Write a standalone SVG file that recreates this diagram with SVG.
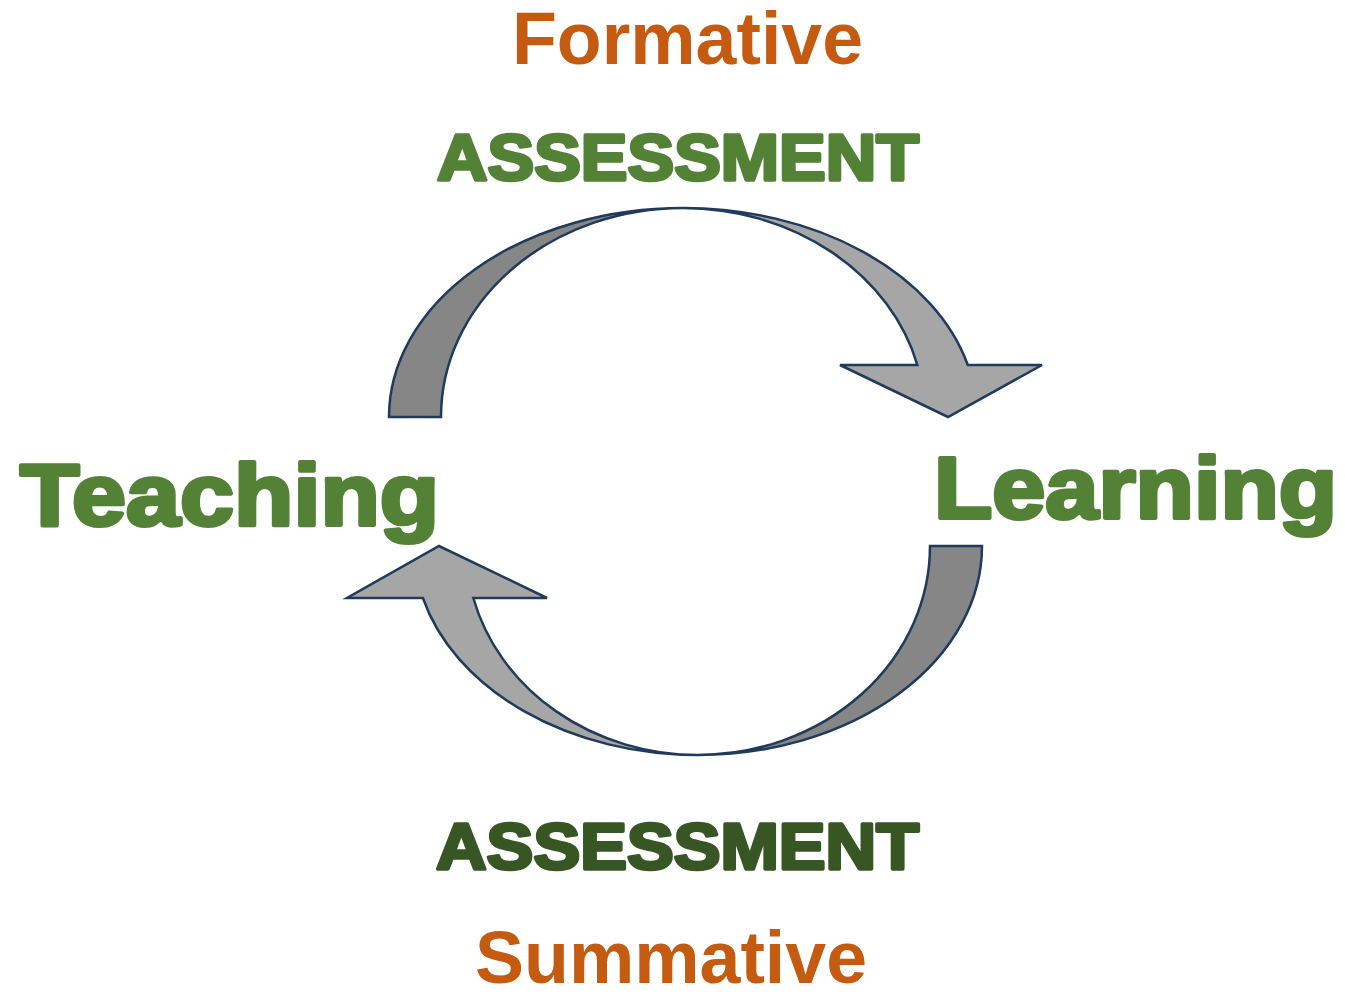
<svg xmlns="http://www.w3.org/2000/svg" width="1345" height="994" viewBox="0 0 1345 994">
<style>
.bg{fill:#ffffff}
.dark{fill:#868686;stroke:#1f3a5a;stroke-width:2.5;stroke-linejoin:miter}
.light{fill:#a6a6a6;stroke:#1f3a5a;stroke-width:2.5;stroke-linejoin:miter}
.orange{font-family:"Liberation Sans",Arial,sans-serif;font-weight:bold;fill:#c55a11;font-size:74px}
.heavy{font-family:"Liberation Sans",Arial,sans-serif;font-weight:bold;stroke-linejoin:round}
.green{fill:#538135;stroke:#538135}
.dgreen{fill:#375623;stroke:#375623}
</style>
<rect class="bg" x="0" y="0" width="1345" height="994"/>
<g id="connectors">
  <g id="arrow-top">
    <path class="dark" d="M389,417 A294,209 0 0 1 683,208 A242,209 0 0 0 441,417 Z"/>
    <path class="light" d="M683,208 A294,209 0 0 1 967.8,365 L1042,365 L948,417 L840,365 L917.4,365 A242,209 0 0 0 683,208 Z"/>
  </g>
  <g id="arrow-bottom">
    <path class="dark" d="M982,546 A284,209 0 0 1 698,755 A232,209 0 0 0 930,546 Z"/>
    <path class="light" d="M698,755 A284,209 0 0 1 422.9,598 L347,598 L439,546 L547,598 L473.3,598 A232,209 0 0 0 698,755 Z"/>
  </g>
</g>
<g id="formative">
  <text class="orange" x="512" y="64" textLength="351" lengthAdjust="spacingAndGlyphs">Formative</text>
</g>
<g id="assessment-top">
  <text class="heavy green" x="437" y="180" font-size="65" stroke-width="3.5" textLength="482" lengthAdjust="spacingAndGlyphs">ASSESSMENT</text>
</g>
<g id="teaching">
  <text class="heavy green" x="20" y="525" font-size="88" stroke-width="4" textLength="419" lengthAdjust="spacingAndGlyphs">Teaching</text>
</g>
<g id="learning">
  <text class="heavy green" x="934" y="518" font-size="88" stroke-width="4" textLength="403" lengthAdjust="spacingAndGlyphs">Learning</text>
</g>
<g id="assessment-bottom">
  <text class="heavy dgreen" x="436" y="869" font-size="65" stroke-width="3.5" textLength="483" lengthAdjust="spacingAndGlyphs">ASSESSMENT</text>
</g>
<g id="summative">
  <text class="orange" x="475" y="983" textLength="392" lengthAdjust="spacingAndGlyphs">Summative</text>
</g>
</svg>
